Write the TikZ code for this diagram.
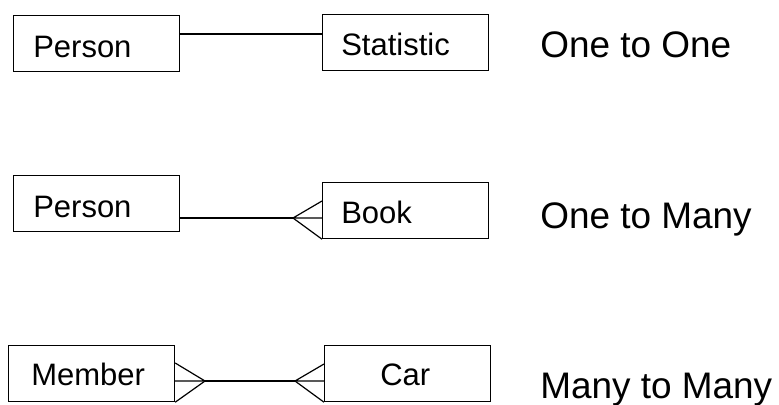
\documentclass[tikz,border=0pt]{standalone}
\usepackage{fontspec}
\setmainfont{Liberation Sans}
\begin{document}
\begin{tikzpicture}[x=0.75pt,y=-0.75pt,
  entity/.style={draw, line width=0.9pt, rectangle, inner sep=0pt,
    minimum width=124.5pt, minimum height=42pt, anchor=north west},
  boxtext/.style={anchor=base west, inner sep=0pt, font=\fontsize{23.25}{26}\selectfont},
  kind/.style={anchor=base west, inner sep=0pt, font=\fontsize{27.7}{31}\selectfont},
  rel/.style={line width=0.9pt}]
\useasboundingbox (0,0) rectangle (779,404);

% one to one
\node[entity] (p1) at (13,15) {};
\node[boxtext] (p1t) at (33,57) {Person};
\node[entity] (s1) at (322,14) {};
\node[boxtext] (s1t) at (341,55) {Statistic};
\draw[rel] (p1.east |- 0,34) -- (s1.west |- 0,34);
\node[kind] (k1) at (540,57) {One to One};

% one to many
\node[entity] (p2) at (13,175) {};
\node[boxtext] (p2t) at (33,217) {Person};
\node[entity] (b2) at (322,182) {};
\node[boxtext] (b2t) at (341,223) {Book};
\coordinate (t2) at (293,218);
\draw[rel] (p2.east |- t2) -- (t2);
\draw[rel] (b2.west |- 0,201) -- (t2) -- (b2.west |- t2);
\draw[rel] (t2) -- (b2.south west);
\node[kind] (k2) at (540,228) {One to Many};

% many to many
\node[entity] (m3) at (8,345) {};
\node[boxtext] (m3t) at (31,385) {Member};
\node[entity] (c3) at (324,345) {};
\node[boxtext] (c3t) at (380,385) {Car};
\coordinate (tm) at (205,381);
\coordinate (tc) at (295,381);
\draw[rel] (tm) -- (tc);
\draw[rel] (m3.east |- 0,363) -- (tm) -- (m3.east |- tm);
\draw[rel] (tm) -- (m3.south east);
\draw[rel] (c3.west |- 0,364) -- (tc) -- (c3.west |- tc);
\draw[rel] (tc) -- (c3.south west);
\node[kind] (k3) at (540,398) {Many to Many};
\end{tikzpicture}
\end{document}
